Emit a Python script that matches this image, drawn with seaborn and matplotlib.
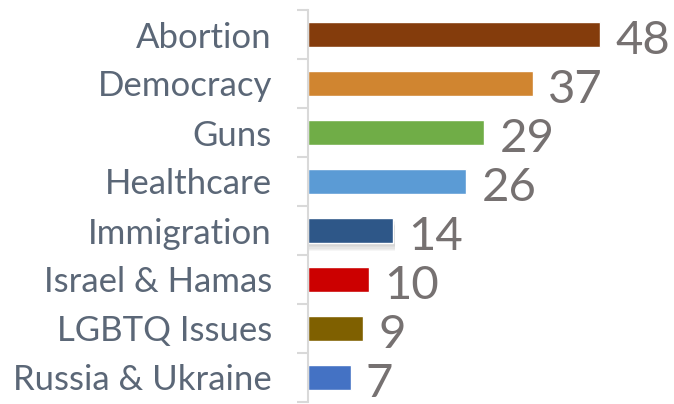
import matplotlib
matplotlib.use('Agg')
import matplotlib.pyplot as plt
import matplotlib.patheffects as pe
import numpy as np
import seaborn as sns

# data
topics = ['Abortion', 'Democracy', 'Guns', 'Healthcare', 'Immigration',
          'Israel & Hamas', 'LGBTQ Issues', 'Russia & Ukraine']
shares = [48, 37, 29, 26, 14, 10, 9, 7]
bar_colors = ['#843C0C', '#D08530', '#70AD47', '#5B9BD5', '#2E5788',
              '#CC0000', '#7F6000', '#4472C4']

sns.set_theme(style='white')
plt.rcParams['font.family'] = ['Lato', 'DejaVu Sans']

fig = plt.figure(figsize=(6.74, 4.04), dpi=100)
ax = fig.add_axes([308 / 674, 2 / 404, 365 / 674, 392 / 404])

sns.barplot(x=shares, y=topics, hue=topics, palette=bar_colors,
            legend=False, width=0.51, saturation=1, ax=ax)

ax.set_xlim(0, 60)
ax.set_ylim(len(topics) - 0.5, -0.5)

# soft shadow under the Immigration bar, as in the original
imm = ax.patches[topics.index('Immigration')]
shadow = [pe.SimplePatchShadow(offset=(1, -k), shadow_rgbFace='#808080', alpha=0.07)
          for k in (6, 5, 4, 3, 2)]
imm.set_path_effects(shadow + [pe.Normal()])

for i, v in enumerate(shares):
    ax.annotate(str(v), xy=(v, i), xytext=(11, -14), textcoords='offset points',
                ha='left', va='baseline', fontsize=34, color='#767171')

# axis styling
for side in ['top', 'right', 'bottom']:
    ax.spines[side].set_visible(False)
ax.spines['left'].set_color('#D9D9D9')
ax.spines['left'].set_linewidth(1.5)
ax.set_xticks([])
ax.set_yticks(np.arange(-0.5, len(topics)), minor=True)
ax.tick_params(axis='y', which='major', length=0, pad=26,
               labelsize=25, labelcolor='#5B6777')
ax.tick_params(axis='y', which='minor', length=8, width=1.5,
               color='#D9D9D9', left=True)
ax.set_xlabel('')
ax.set_ylabel('')

fig.savefig('out.png', dpi=100)
